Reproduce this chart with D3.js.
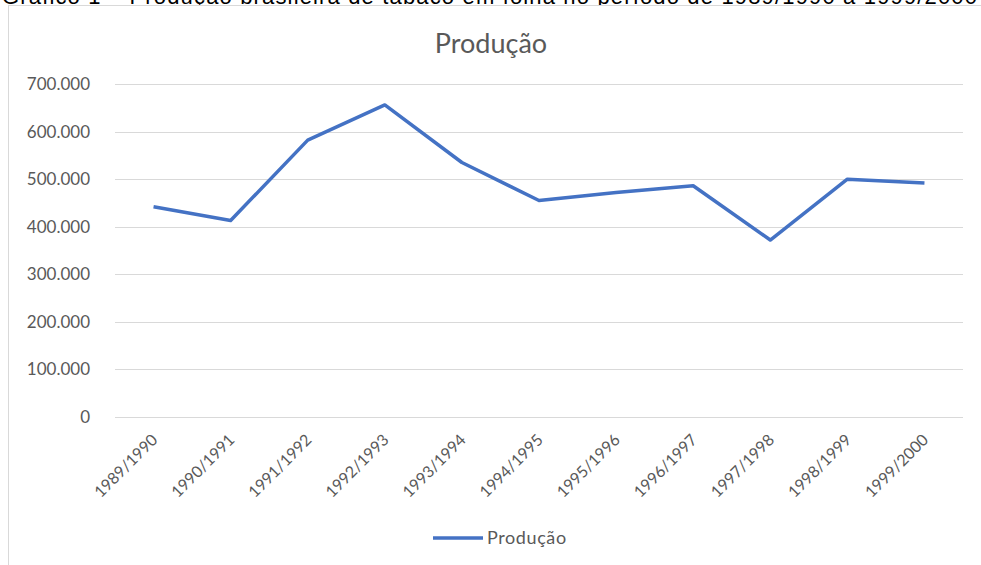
<!DOCTYPE html>
<html>
<head>
<meta charset="utf-8">
<script src="https://cdn.jsdelivr.net/npm/d3@7"></script>
<style>
  body { margin: 0; background: #fff; }
  svg text { font-family: Lato, "Open Sans", sans-serif; }
</style>
</head>
<body>
<div id="chart"></div>
<script>
var safras = ["1989/1990","1990/1991","1991/1992","1992/1993","1993/1994","1994/1995",
              "1995/1996","1996/1997","1997/1998","1998/1999","1999/2000"];
var producao = [442000, 413000, 582000, 656000, 535000, 455000,
                472000, 486000, 372000, 500000, 492000];
var yTicks = [0, 100000, 200000, 300000, 400000, 500000, 600000, 700000];

var W = 981, H = 565;
var m = {t: 84, r: 18, b: 148, l: 115};
var w = W - m.l - m.r, h = H - m.t - m.b;
var lineColor = "#4472c4", txtColor = "#595959";

var svg = d3.select("#chart").append("svg")
    .attr("width", W).attr("height", H);

// caption of the document, cut off above the picture
svg.append("text").attr("x", 2).attr("y", 4)
    .attr("font-size", 22).attr("fill", "#000")
    .attr("textLength", 975).attr("lengthAdjust", "spacing")
    .style("font-family", "'Liberation Sans', sans-serif")
    .text("Gráfico 1 – Produção brasileira de tabaco em folha no período de 1989/1990 a 1999/2000");

// chart area border
svg.append("rect").attr("x", 8.5).attr("y", 5.5)
    .attr("width", W + 20).attr("height", H + 20)
    .attr("fill", "#fff").attr("stroke", "#d9d9d9");

svg.append("text").attr("x", 491).attr("y", 53)
    .attr("text-anchor", "middle").attr("font-size", 27)
    .attr("fill", txtColor).text("Produção");

var g = svg.append("g").attr("transform", "translate(" + m.l + "," + m.t + ")");

var x = d3.scaleBand().domain(safras).range([0, w]);
var y = d3.scaleLinear().domain([0, 700000]).range([h, 0]);
var fmt = d3.format(",.0f");
function ptBr(v){ return fmt(v).replace(/,/g, "."); }

// gridlines
g.append("g").selectAll("line").data(yTicks).enter().append("line")
    .attr("x1", 0).attr("x2", w)
    .attr("y1", function(d){ return Math.round(y(d)) + 0.5; })
    .attr("y2", function(d){ return Math.round(y(d)) + 0.5; })
    .attr("stroke", "#d9d9d9").attr("stroke-width", 1);

// y axis labels
var yAxis = g.append("g").attr("transform", "translate(-22,0)")
    .call(d3.axisLeft(y).tickValues(yTicks).tickFormat(ptBr).tickSize(0));
yAxis.select(".domain").remove();
yAxis.selectAll("text").attr("font-size", 17).attr("fill", txtColor)
    .style("font-family", "Lato, sans-serif");

// x axis labels
var xAxis = g.append("g").attr("transform", "translate(0," + h + ")")
    .call(d3.axisBottom(x).tickSize(0));
xAxis.select(".domain").remove();
xAxis.selectAll("text")
    .attr("font-size", 16).attr("fill", txtColor)
    .style("font-family", "Lato, sans-serif")
    .attr("text-anchor", "end")
    .attr("dy", "0.35em").attr("y", 0).attr("x", 0)
    .attr("transform", "translate(1,20) rotate(-45)");

// the line
var line = d3.line()
    .x(function(d, i){ return x(safras[i]) + x.bandwidth() / 2; })
    .y(function(d){ return y(d); });

g.append("path").datum(producao)
    .attr("d", line).attr("fill", "none")
    .attr("stroke", lineColor).attr("stroke-width", 3.5)
    .attr("stroke-linejoin", "round");

// legend
var leg = svg.append("g").attr("transform", "translate(433,538)");
leg.append("line").attr("x1", 0).attr("x2", 50).attr("y1", 0).attr("y2", 0)
    .attr("stroke", lineColor).attr("stroke-width", 3.5);
leg.append("text").attr("x", 54).attr("y", 0).attr("dy", "0.35em")
    .attr("font-size", 18).attr("letter-spacing", 0.6)
    .attr("fill", txtColor).text("Produção");
</script>
</body>
</html>
